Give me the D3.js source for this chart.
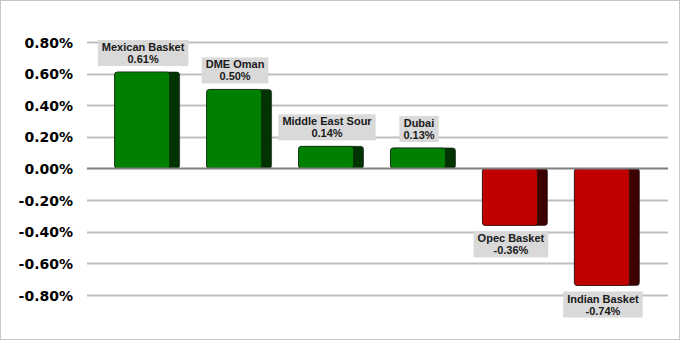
<!DOCTYPE html>
<html><head><meta charset="utf-8">
<script src="https://cdn.jsdelivr.net/npm/d3@7"></script>
<style>body{margin:0;background:#fff;}svg{display:block;}</style>
</head><body>
<script>
const categories = ["Mexican Basket", "DME Oman", "Middle East Sour", "Dubai", "Opec Basket", "Indian Basket"];
const values = [0.61, 0.50, 0.14, 0.13, -0.36, -0.74];
const yTicks = [0.8, 0.6, 0.4, 0.2, 0, -0.2, -0.4, -0.6, -0.8];

const W = 681, H = 341;
const svg = d3.select("body").append("svg").attr("width", W).attr("height", H);
svg.append("rect").attr("x", 0.5).attr("y", 0.5).attr("width", W - 2).attr("height", H - 2)
  .attr("fill", "#fff").attr("stroke", "#c6c6c6").attr("stroke-width", 1);

const x = d3.scaleBand().domain(categories).range([87, 667]).paddingInner(0.293).paddingOuter(0.3);
const y = d3.scaleLinear().domain([-0.8, 0.8]).range([295, 42]);
const pct = d => (Math.abs(d) < 1e-9 ? 0 : d).toFixed(2) + "%";

// gridlines
svg.append("g").selectAll("line").data(yTicks.filter(d => d !== 0)).join("line")
  .attr("x1", 87).attr("x2", 668)
  .attr("y1", d => Math.round(y(d)) + 0.5).attr("y2", d => Math.round(y(d)) + 0.5)
  .attr("stroke", "#bfbfbf").attr("stroke-width", 2);

// y axis labels
const yAxis = d3.axisLeft(y).tickValues(yTicks).tickSize(0).tickPadding(0).tickFormat(pct);
const gy = svg.append("g").attr("transform", "translate(73,0)").call(yAxis);
gy.select(".domain").remove();
gy.selectAll("text").attr("font-family", "DejaVu Sans").attr("font-weight", "bold")
  .attr("font-size", 14).attr("fill", "#000").attr("dy", "0.36em");

const side = 10;
const bars = svg.append("g").selectAll("g").data(categories).join("g");
bars.append("rect")
  .attr("x", d => x(d)).attr("width", x.bandwidth())
  .attr("y", (d, i) => Math.min(y(values[i]), y(0)))
  .attr("height", (d, i) => Math.abs(y(values[i]) - y(0)))
  .attr("rx", 3).attr("fill", (d, i) => values[i] >= 0 ? "#003300" : "#3d0000")
  .attr("stroke", "#1a1a1a").attr("stroke-width", 0.6);
bars.append("rect")
  .attr("x", d => x(d)).attr("width", x.bandwidth() - side)
  .attr("y", (d, i) => Math.min(y(values[i]), y(0)))
  .attr("height", (d, i) => Math.abs(y(values[i]) - y(0)))
  .attr("rx", 3).attr("fill", (d, i) => values[i] >= 0 ? "#008000" : "#c00000")
  .attr("stroke", "#1a1a1a").attr("stroke-width", 0.6);

// zero line
svg.append("line").attr("x1", 87).attr("x2", 668).attr("y1", y(0)).attr("y2", y(0))
  .attr("stroke", "#7f7f7f").attr("stroke-width", 2);

// labels
const labels = svg.append("g").selectAll("g").data(categories).join("g")
  .attr("transform", (d, i) => {
    const cx = x(d) + (x.bandwidth() - side) / 2 + 1;
    const v = values[i];
    const top = v >= 0 ? y(v) - 6 - 26 : y(v) + 6;
    return `translate(${cx},${top})`;
  });
labels.append("rect").attr("fill", "#d9d9d9").attr("height", 26);
labels.append("text").attr("text-anchor", "middle").attr("y", 11)
  .attr("font-family", "Liberation Sans, Arial").attr("font-weight", "bold").attr("font-size", 11)
  .attr("fill", "#1a1a1a").text(d => d);
labels.append("text").attr("text-anchor", "middle").attr("y", 23)
  .attr("font-family", "Liberation Sans, Arial").attr("font-weight", "bold").attr("font-size", 11)
  .attr("fill", "#1a1a1a").text((d, i) => pct(values[i]));
labels.each(function() {
  const g = d3.select(this);
  const w = d3.max(g.selectAll("text").nodes(), n => n.getComputedTextLength()) + 8;
  g.select("rect").attr("x", -w / 2).attr("width", w);
});
</script>
</body></html>
